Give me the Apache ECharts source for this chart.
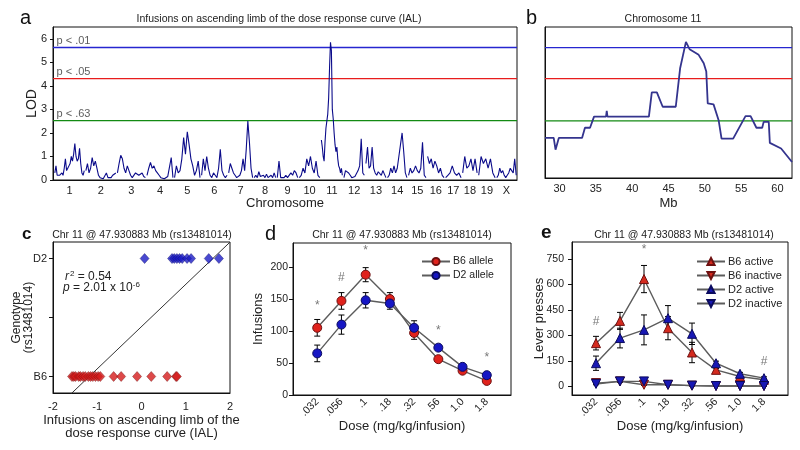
<!DOCTYPE html>
<html><head><meta charset="utf-8">
<script src="https://cdn.jsdelivr.net/npm/echarts@6/dist/echarts.min.js"></script>
<style>html,body{margin:0;padding:0;background:#fff}#c{width:800px;height:450px}</style>
</head><body><div id="c"></div>
<script>
// ---------- Panel a: genome-wide LOD ----------
const chrNames = ['1','2','3','4','5','6','7','8','9','10','11','12','13','14','15','16','17','18','19','X'];
const chrLen = [31,31.5,29.5,27.5,27,27,25.5,23,22,22,22.5,22,21.5,21,19,18,17,16,18,21];
const lod1 = [0.3,0.6,0.2,0.15,0.2,0.25,0.3,0.2,0.5,0.9,0.4,0.5,0.6,0.7,1.0,0.8,1.1,1.55,1.0,0.8,0.9,1.35,0.7,0.3,0.2,0.4];
const lod2 = [0.4,0.7,0.3,0.5,0.95,0.6,0.8,0.5,0.2,0.1,0.1,0.05,0.1,0.3,0.1,0.1,0.1,0.2,0.15,0.3];
const lod3 = [0.3,0.7,1.05,0.9,0.5,0.3,0.6,0.4,0.2,0.1,0.15,0.3,0.35,0.2,0.25,0.3,0.15,0.1];
const lod4 = [0.2,0.5,0.75,0.5,0.6,0.4,0.3,0.2,0.1,0.1,0.05,0.1,0.15,0.2,0.95,0.1];
const lod5 = [0.1,0.6,0.3,0.4,0.9,1.8,1.1,2.05,1.5,0.9,0.6,0.2,0.4,0.8,0.1];
const lod6 = [0.2,0.9,0.4,1.0,0.5,0.2,0.1,0.3,0.2,0.1,0.5,1.3,0.4,0.2,0.1,0.2];
const lod7 = [0.3,0.7,0.5,0.3,0.2,0.1,0.15,0.2,0.4,0.9,0.4,1.3,2.5,1.6,0.5,0.1];
const lod8 = [0.1,0.2,0.1,0.35,0.15,0.1,0.2,0.1,0.25,0.1,0.15,0.2,0.1,0.3,0.1];
const lod9 = [0.1,0.8,0.1,0.05,0.1,0.2,0.1,0.15,0.3,0.2,0.4,0.3,0.1];
const lod10 = [0.1,0.2,0.5,0.3,0.9,0.6,1.0,0.5,0.3,0.8,0.2,0.1];
const lod11 = [1.7,1.4,1.0,0.8,1.6,2.2,2.5,2.8,3.5,4.8,5.85,5.5,3.0,2.6,2.0,1.5,1.2,1.4,0.9,0.6,0.5,0.3,0.5,0.2];
const lod12 = [0.1,0.4,0.35,0.3,0.2,0.1,0.1,0.15,0.2,0.4,0.6,1.75,0.3,0.2];
const lod13 = [0.7,1.4,0.5,0.6,1.4,0.5,0.3,0.2,0.35,0.3,0.2,0.4,0.25,0.1];
const lod14 = [0.1,0.2,0.5,0.3,0.6,0.3,0.5,1.0,1.5,2.0,1.2,0.3,0.1];
const lod15 = [0.2,0.5,0.3,0.4,0.6,0.4,0.3,0.5,1.6,0.2,0.1];
const lod16 = [1.0,0.7,0.9,0.5,0.8,0.6,0.3,0.5,0.2,0.1];
const lod17 = [0.1,0.2,0.3,0.6,0.3,0.2,0.3,0.1];
const lod18 = [0.3,1.0,0.5,0.6,0.9,0.4,0.9,0.3];
const lod19 = [0.2,1.0,0.7,0.9,0.5,0.9,0.3,0.1];
const lodX = [0.1,0.2,0.5,0.3,0.4,0.2,0.1,0.2,0.3,0.5,0.4,0.3,0.9,0.2];
const lodByChr = [lod1,lod2,lod3,lod4,lod5,lod6,lod7,lod8,lod9,lod10,lod11,lod12,lod13,lod14,lod15,lod16,lod17,lod18,lod19,lodX];
const lodTicks = [0,1,2,3,4,5,6];
const threshLod = [5.63, 4.31, 2.52];
const threshLabels = ['p < .01', 'p < .05', 'p < .63'];
const threshColors = ['#2626d0', '#e81c1c', '#138a13'];

// ---------- Panel b: chromosome 11 ----------
const chr11Mb  = [28,29.2,29.45,29.9,33.1,33.5,34.2,34.75,36.4,36.5,36.6,42.3,42.7,43.4,44.2,46.0,46.6,47.4,47.9,49.15,49.85,50.2,50.4,51.2,51.9,52.3,53.9,55.6,56.3,57.1,57.9,58.1,58.8,58.95,60.5,62];
const chr11Lod = [1.8,1.8,1.3,1.8,1.8,2.23,2.23,2.7,2.7,2.95,2.7,2.7,3.73,3.73,3.12,3.12,4.75,5.87,5.56,5.32,4.96,4.61,3.26,3.22,2.55,1.77,1.77,2.72,2.72,2.23,2.23,2.48,2.48,1.59,1.35,0.78];
const mbTicks = [30,35,40,45,50,55,60];

// ---------- Panel c: genotype vs IAL ----------
const d2IAL = [0.07,0.69,0.74,0.8,0.86,0.92,1.03,1.12,1.52,1.75];
const b6IAL = [-1.57,-1.53,-1.49,-1.42,-1.38,-1.32,-1.27,-1.2,-1.15,-1.1,-1.04,-0.98,-0.93,-0.63,-0.46,-0.1,0.22,0.58,0.78,0.8];
const fitSlope = 0.358, fitIntercept = 0.423;
const genoTicks = [0, 0.5, 1];
const genoLabels = ['B6', '', 'D2'];
const ialTicks = [-2,-1,0,1,2];

// ---------- Panel d: infusions ----------
const doses = ['.032','.056','.1','.18','.32','.56','1.0','1.8'];
const b6Inf = [105,147,188,150,97,56,38,22];
const b6InfErr = [13,13,11,10,10,4,3,3];
const d2Inf = [65,110,148,143,105,74,44,31];
const d2InfErr = [13,15,12,9,11,4,3,3];
const infTicks = [0,50,100,150,200];
const infMarkDose = ['.032','.056','.1','.56','1.8'];
const infMarkY = [140,183,225,101,58];
const infMarkText = ['*','#','*','*','*'];

// ---------- Panel e: lever presses ----------
const b6Active = [255,386,632,343,200,98,59,40];
const b6ActiveErr = [40,50,80,68,60,8,6,6];
const b6Inactive = [20,30,10,10,5,3,3,3];
const b6InactiveErr = [5,5,4,3,2,1,1,1];
const d2Active = [137,285,333,402,310,137,75,49];
const d2ActiveErr = [42,58,88,74,63,12,8,8];
const d2Inactive = [15,30,30,10,5,3,3,3];
const d2InactiveErr = [5,6,5,3,2,1,1,1];
const leverTicks = [0,150,300,450,600,750];
const leverMarkDose = ['.032','.1','1.8'];
const leverMarkY = [382,804,147];
const leverMarkText = ['#','*','#'];

// ---------- build ----------
const FONT = '"Liberation Sans", Arial, sans-serif';
const TXT = '#222';
const chrStart = [];
let acc = 1;
chrLen.forEach(l => { chrStart.push(acc); acc += l; });
const chrCenters = chrStart.map((s, i) => s + chrLen[i] / 2);
const genomeMax = acc;

const series = [];
// threshold lines (panels a and b)
threshLod.forEach((v, i) => {
  series.push({ type: 'line', xAxisIndex: 0, yAxisIndex: 0, showSymbol: false, silent: true, z: 2,
    lineStyle: { color: threshColors[i], width: 1.3 }, data: [[0, v], [genomeMax, v]] });
  series.push({ type: 'line', xAxisIndex: 1, yAxisIndex: 1, showSymbol: false, silent: true, z: 2,
    lineStyle: { color: threshColors[i], width: 1.3 }, data: [[28, v], [62, v]] });
});
series.push({ type: 'scatter', xAxisIndex: 0, yAxisIndex: 0, symbolSize: 1, silent: true, z: 5,
  itemStyle: { color: 'rgba(0,0,0,0)' },
  label: { show: true, position: 'right', distance: 3, offset: [0, -7], formatter: p => p.data[2], color: '#333', fontSize: 11, fontFamily: FONT },
  data: threshLod.map((v, i) => [0, v, threshLabels[i]]) });

lodByChr.forEach((vals, c) => {
  const s = chrStart[c] + 0.8, w = chrLen[c] - 1.6;
  series.push({
    type: 'line', xAxisIndex: 0, yAxisIndex: 0, showSymbol: false, silent: true,
    lineStyle: { color: '#0b0b8a', width: 1.1 },
    data: vals.map((v, i) => [s + i * w / (vals.length - 1), v]), z: 3
  });
});

series.push({
  type: 'line', xAxisIndex: 1, yAxisIndex: 1, showSymbol: false, silent: true,
  lineStyle: { color: '#34348e', width: 1.8 },
  data: chr11Mb.map((m, i) => [m, chr11Lod[i]]), z: 3
});

// panel c
series.push({ type: 'line', xAxisIndex: 2, yAxisIndex: 2, showSymbol: false, silent: true,
  lineStyle: { color: '#333', width: 1 }, data: [-2, 2].map(x => [x, fitSlope * x + fitIntercept]) });
series.push({ type: 'scatter', xAxisIndex: 2, yAxisIndex: 2, symbol: 'diamond', symbolSize: [9, 10],
  itemStyle: { color: '#1c1cc4', borderColor: '#10106a', borderWidth: 0.5 }, data: d2IAL.map(x => [x, 1]), z: 4 });
series.push({ type: 'scatter', xAxisIndex: 2, yAxisIndex: 2, symbol: 'diamond', symbolSize: [9, 10],
  itemStyle: { color: '#d41c1c', borderColor: '#6a1010', borderWidth: 0.5 }, data: b6IAL.map(x => [x, 0]), z: 4 });

function errSeries(xi, means, errs) {
  return {
    type: 'custom', xAxisIndex: xi, yAxisIndex: xi, silent: true, z: 2,
    data: doses.map((d, i) => [d, means[i] - errs[i], means[i] + errs[i]]),
    encode: { x: 0, y: [1, 2] },
    renderItem(params, api) {
      const lo = api.coord([api.value(0), api.value(1)]);
      const hi = api.coord([api.value(0), api.value(2)]);
      const w = 3, st = { stroke: '#000', lineWidth: 1 };
      return { type: 'group', children: [
        { type: 'line', shape: { x1: lo[0], y1: lo[1], x2: hi[0], y2: hi[1] }, style: st },
        { type: 'line', shape: { x1: lo[0] - w, y1: lo[1], x2: lo[0] + w, y2: lo[1] }, style: st },
        { type: 'line', shape: { x1: hi[0] - w, y1: hi[1], x2: hi[0] + w, y2: hi[1] }, style: st }
      ] };
    }
  };
}
function meanSeries(xi, name, vals, symbol, rot, fill, border) {
  return { type: 'line', name, xAxisIndex: xi, yAxisIndex: xi, symbol, symbolSize: 9, symbolRotate: rot,
    showAllSymbol: true, z: 3,
    lineStyle: { color: '#5c5c5c', width: 1.4 },
    itemStyle: { color: fill, borderColor: border, borderWidth: 1 },
    data: doses.map((d, i) => [d, vals[i]]) };
}
function markSeries(xi, ds, ys, ts) {
  return { type: 'scatter', xAxisIndex: xi, yAxisIndex: xi, symbolSize: 1, silent: true,
    itemStyle: { color: 'rgba(0,0,0,0)' }, z: 5,
    label: { show: true, position: 'inside', formatter: p => p.data[2], color: '#555', fontSize: 12, fontFamily: FONT },
    data: ds.map((d, i) => [d, ys[i], ts[i]]) };
}
const RED = '#e0221c', REDB = '#6e1010', BLUE = '#1616c4', BLUEB = '#0a0a5e';
// panel d
series.push(errSeries(3, b6Inf, b6InfErr));
series.push(errSeries(3, d2Inf, d2InfErr));
series.push(meanSeries(3, 'B6 allele', b6Inf, 'circle', 0, RED, REDB));
series.push(meanSeries(3, 'D2 allele', d2Inf, 'circle', 0, BLUE, BLUEB));
series.push(markSeries(3, infMarkDose, infMarkY, infMarkText));
// panel e
series.push(errSeries(4, b6Active, b6ActiveErr));
series.push(errSeries(4, d2Active, d2ActiveErr));
series.push(errSeries(4, b6Inactive, b6InactiveErr));
series.push(errSeries(4, d2Inactive, d2InactiveErr));
series.push(meanSeries(4, 'B6 active', b6Active, 'triangle', 0, '#d42a1e', REDB));
series.push(meanSeries(4, 'B6 inactive', b6Inactive, 'triangle', 180, '#d42a1e', REDB));
series.push(meanSeries(4, 'D2 active', d2Active, 'triangle', 0, '#1818b4', BLUEB));
series.push(meanSeries(4, 'D2 inactive', d2Inactive, 'triangle', 180, '#1818b4', BLUEB));
series.push(markSeries(4, leverMarkDose, leverMarkY, leverMarkText));

const gridStyle = { show: true, borderColor: '#111', borderWidth: 1, backgroundColor: 'transparent' };
const axLine = { show: true, onZero: false, lineStyle: { color: '#111', width: 1 } };
const lab = (sz, extra) => Object.assign({ color: TXT, fontSize: sz, fontFamily: FONT }, extra || {});
const nameSt = sz => ({ color: TXT, fontSize: sz, fontFamily: FONT });
const catAxis = [' '].concat(doses).concat(['  ']);
const pick = (ticks, labels) => v => { const i = ticks.findIndex(t => Math.abs(t - v) < 1e-6); return i >= 0 ? labels[i] : ''; };

const option = {
  animation: false,
  textStyle: { fontFamily: FONT },
  grid: [
    Object.assign({ left: 53, top: 27, width: 464, height: 153 }, gridStyle),
    Object.assign({ left: 545, top: 27, width: 247, height: 151 }, gridStyle),
    Object.assign({ left: 53, top: 242, width: 177, height: 151 }, gridStyle),
    Object.assign({ left: 293, top: 243, width: 218, height: 152 }, gridStyle),
    Object.assign({ left: 572, top: 242, width: 216, height: 153 }, gridStyle)
  ],
  xAxis: [
    { gridIndex: 0, type: 'value', min: 0, max: genomeMax, axisLine: axLine, axisTick: { show: false }, splitLine: { show: false },
      axisLabel: lab(11, { margin: 5, customValues: chrCenters, formatter: pick(chrCenters, chrNames) }),
      name: 'Chromosome', nameLocation: 'middle', nameGap: 17, nameMoveOverlap: false, nameTextStyle: nameSt(13) },
    { gridIndex: 1, type: 'value', min: 28, max: 62, axisLine: axLine, axisTick: { show: false }, splitLine: { show: false },
      axisLabel: lab(11, { margin: 5, customValues: mbTicks }),
      name: 'Mb', nameLocation: 'middle', nameGap: 19, nameMoveOverlap: false, nameTextStyle: nameSt(13) },
    { gridIndex: 2, type: 'value', min: -2, max: 2, axisLine: axLine, axisTick: { show: false }, splitLine: { show: false },
      axisLabel: lab(11, { margin: 8, customValues: ialTicks }),
      name: 'Infusions on ascending limb of the\ndose response curve (IAL)', nameLocation: 'middle', nameGap: 21, nameMoveOverlap: false,
      nameTextStyle: Object.assign(nameSt(13), { lineHeight: 13 }) },
    { gridIndex: 3, type: 'category', data: catAxis, boundaryGap: false, axisLine: axLine, axisTick: { show: false }, splitLine: { show: false },
      axisLabel: lab(10.5, { rotate: 45, margin: 5, interval: 0 }),
      name: 'Dose (mg/kg/infusion)', nameLocation: 'middle', nameGap: 25, nameMoveOverlap: false, nameTextStyle: nameSt(13) },
    { gridIndex: 4, type: 'category', data: catAxis, boundaryGap: false, axisLine: axLine, axisTick: { show: false }, splitLine: { show: false },
      axisLabel: lab(10.5, { rotate: 45, margin: 5, interval: 0 }),
      name: 'Dose (mg/kg/infusion)', nameLocation: 'middle', nameGap: 25, nameMoveOverlap: false, nameTextStyle: nameSt(13) }
  ],
  yAxis: [
    { gridIndex: 0, type: 'value', min: 0, max: 6.5, axisLine: axLine, splitLine: { show: false },
      axisTick: { show: true, length: 3, customValues: lodTicks, lineStyle: { color: '#111' } },
      axisLabel: lab(11, { margin: 6, customValues: lodTicks }),
      name: 'LOD', nameLocation: 'middle', nameGap: 14, nameMoveOverlap: false, nameTextStyle: nameSt(14) },
    { gridIndex: 1, type: 'value', min: 0.1, max: 6.5, axisLine: axLine, splitLine: { show: false },
      axisTick: { show: false }, axisLabel: { show: false } },
    { gridIndex: 2, type: 'value', min: -0.14, max: 1.14, axisLine: axLine, splitLine: { show: false },
      axisTick: { show: true, length: 4, customValues: genoTicks, lineStyle: { color: '#111' } },
      axisLabel: lab(11, { margin: 6, customValues: genoTicks, formatter: pick(genoTicks, genoLabels) }),
      name: 'Genotype\n(rs13481014)', nameLocation: 'middle', nameGap: 18, nameMoveOverlap: false, nameTextStyle: Object.assign(nameSt(12), { lineHeight: 12 }) },
    { gridIndex: 3, type: 'value', min: 0, max: 237.5, axisLine: axLine, splitLine: { show: false },
      axisTick: { show: true, length: 4, customValues: infTicks, lineStyle: { color: '#111' } },
      axisLabel: lab(10.5, { margin: 5, customValues: infTicks }),
      name: 'Infusions', nameLocation: 'middle', nameGap: 28, nameMoveOverlap: false, nameTextStyle: nameSt(13) },
    { gridIndex: 4, type: 'value', min: -50, max: 850, axisLine: axLine, splitLine: { show: false },
      axisTick: { show: true, length: 4, customValues: leverTicks, lineStyle: { color: '#111' } },
      axisLabel: lab(10.5, { margin: 8, customValues: leverTicks }),
      name: 'Lever presses', nameLocation: 'middle', nameGap: 26, nameMoveOverlap: false, nameTextStyle: nameSt(13) }
  ],
  legend: [
    { data: ['B6 allele', 'D2 allele'], left: 416, top: 251, orient: 'vertical', itemWidth: 28, itemHeight: 9, itemGap: 3,
      textStyle: { fontSize: 10.5, color: TXT, fontFamily: FONT, padding: [0, 0, 0, -2] }, selectedMode: false },
    { data: ['B6 active', 'B6 inactive', 'D2 active', 'D2 inactive'], left: 691, top: 251, orient: 'vertical', itemWidth: 28, itemHeight: 9, itemGap: 3,
      textStyle: { fontSize: 11, color: TXT, fontFamily: FONT, padding: [0, 0, 0, -2] }, selectedMode: false }
  ],
  graphic: [
    { type: 'text', x: 20, y: 18, style: { text: 'a', font: '20px ' + FONT, fill: '#111', verticalAlign: 'middle' } },
    { type: 'text', x: 279, y: 19, style: { text: 'Infusions on ascending limb of the dose response curve (IAL)', font: '10.5px ' + FONT, fill: TXT, align: 'center', verticalAlign: 'middle' } },
    { type: 'text', x: 526, y: 18, style: { text: 'b', font: '20px ' + FONT, fill: '#111', verticalAlign: 'middle' } },
    { type: 'text', x: 663, y: 19, style: { text: 'Chromosome 11', font: '10.5px ' + FONT, fill: TXT, align: 'center', verticalAlign: 'middle' } },
    { type: 'text', x: 22, y: 234, style: { text: 'c', font: 'bold 17px ' + FONT, fill: '#111', verticalAlign: 'middle' } },
    { type: 'text', x: 142, y: 235, style: { text: 'Chr 11 @ 47.930883 Mb (rs13481014)', font: '10.5px ' + FONT, fill: TXT, align: 'center', verticalAlign: 'middle' } },
    { type: 'text', x: 265, y: 234, style: { text: 'd', font: '20px ' + FONT, fill: '#111', verticalAlign: 'middle' } },
    { type: 'text', x: 402, y: 235, style: { text: 'Chr 11 @ 47.930883 Mb (rs13481014)', font: '10.5px ' + FONT, fill: TXT, align: 'center', verticalAlign: 'middle' } },
    { type: 'text', x: 541, y: 233, style: { text: 'e', font: 'bold 19px ' + FONT, fill: '#111', verticalAlign: 'middle' } },
    { type: 'text', x: 684, y: 235, style: { text: 'Chr 11 @ 47.930883 Mb (rs13481014)', font: '10.5px ' + FONT, fill: TXT, align: 'center', verticalAlign: 'middle' } },
    { type: 'text', x: 65, y: 277, style: { text: '{i|r}{s|2} = 0.54', font: '12px ' + FONT, fill: TXT, verticalAlign: 'middle',
        rich: { i: { fontStyle: 'italic', fontSize: 12, fontFamily: FONT }, s: { fontSize: 8, fontFamily: FONT, padding: [0, 0, 7, 1] } } } },
    { type: 'text', x: 63, y: 288, style: { text: '{i|p} = 2.01 x 10{s|-6}', font: '12px ' + FONT, fill: TXT, verticalAlign: 'middle',
        rich: { i: { fontStyle: 'italic', fontSize: 12, fontFamily: FONT }, s: { fontSize: 8, fontFamily: FONT, padding: [0, 0, 7, 0] } } } }
  ],
  series
};
const chart = echarts.init(document.getElementById('c'), null, { renderer: 'canvas', width: 800, height: 450 });
chart.setOption(option);
</script>
</body></html>
